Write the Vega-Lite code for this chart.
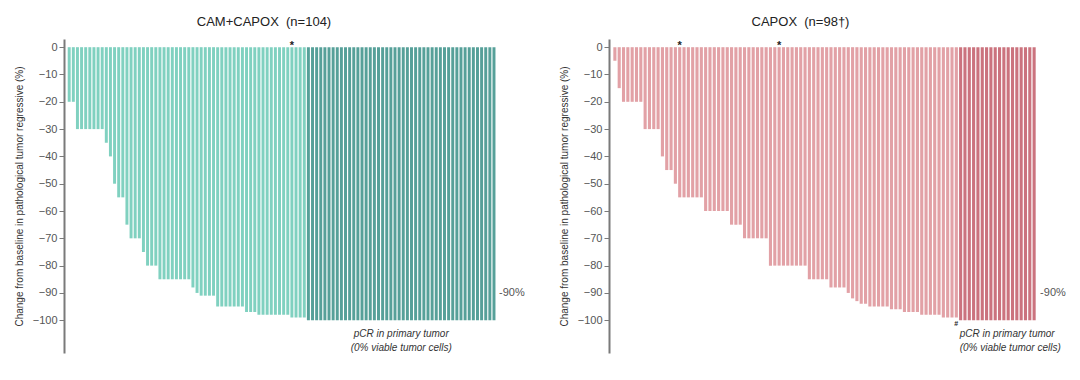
{
"$schema": "https://vega.github.io/schema/vega-lite/v6.json",
"background": "white",
"padding": {"left": 14, "top": 16, "right": 5, "bottom": 5},
"spacing": 34,
"config": {"view": {"stroke": null}, "font": "Liberation Sans", "title": {"fontSize": 13, "fontWeight": "normal", "color": "#222", "offset": 10}},
"resolve": {"scale": {"color": "shared"}},
"datasets": {
"cam": [
{"i":0,"v":-20,"g":"a"},{"i":1,"v":-20,"g":"a"},
{"i":2,"v":-30,"g":"a"},{"i":3,"v":-30,"g":"a"},{"i":4,"v":-30,"g":"a"},{"i":5,"v":-30,"g":"a"},{"i":6,"v":-30,"g":"a"},{"i":7,"v":-30,"g":"a"},{"i":8,"v":-30,"g":"a"},
{"i":9,"v":-35,"g":"a"},{"i":10,"v":-40,"g":"a"},{"i":11,"v":-50,"g":"a"},{"i":12,"v":-55,"g":"a"},{"i":13,"v":-55,"g":"a"},{"i":14,"v":-65,"g":"a"},
{"i":15,"v":-70,"g":"a"},{"i":16,"v":-70,"g":"a"},{"i":17,"v":-70,"g":"a"},{"i":18,"v":-75,"g":"a"},
{"i":19,"v":-80,"g":"a"},{"i":20,"v":-80,"g":"a"},{"i":21,"v":-80,"g":"a"},
{"i":22,"v":-85,"g":"a"},{"i":23,"v":-85,"g":"a"},{"i":24,"v":-85,"g":"a"},{"i":25,"v":-85,"g":"a"},{"i":26,"v":-85,"g":"a"},{"i":27,"v":-85,"g":"a"},{"i":28,"v":-85,"g":"a"},{"i":29,"v":-85,"g":"a"},
{"i":30,"v":-88,"g":"a"},{"i":31,"v":-90,"g":"a"},
{"i":32,"v":-91,"g":"a"},{"i":33,"v":-91,"g":"a"},{"i":34,"v":-91,"g":"a"},{"i":35,"v":-91,"g":"a"},
{"i":36,"v":-95,"g":"a"},{"i":37,"v":-95,"g":"a"},{"i":38,"v":-95,"g":"a"},{"i":39,"v":-95,"g":"a"},{"i":40,"v":-95,"g":"a"},{"i":41,"v":-95,"g":"a"},{"i":42,"v":-95,"g":"a"},
{"i":43,"v":-97,"g":"a"},{"i":44,"v":-97,"g":"a"},{"i":45,"v":-97,"g":"a"},
{"i":46,"v":-98,"g":"a"},{"i":47,"v":-98,"g":"a"},{"i":48,"v":-98,"g":"a"},{"i":49,"v":-98,"g":"a"},{"i":50,"v":-98,"g":"a"},{"i":51,"v":-98,"g":"a"},{"i":52,"v":-98,"g":"a"},{"i":53,"v":-98,"g":"a"},
{"i":54,"v":-99,"g":"a"},{"i":55,"v":-99,"g":"a"},{"i":56,"v":-99,"g":"a"},{"i":57,"v":-99,"g":"a"},
{"i":58,"v":-100,"g":"b"},{"i":59,"v":-100,"g":"b"},{"i":60,"v":-100,"g":"b"},{"i":61,"v":-100,"g":"b"},{"i":62,"v":-100,"g":"b"},{"i":63,"v":-100,"g":"b"},{"i":64,"v":-100,"g":"b"},{"i":65,"v":-100,"g":"b"},{"i":66,"v":-100,"g":"b"},{"i":67,"v":-100,"g":"b"},
{"i":68,"v":-100,"g":"b"},{"i":69,"v":-100,"g":"b"},{"i":70,"v":-100,"g":"b"},{"i":71,"v":-100,"g":"b"},{"i":72,"v":-100,"g":"b"},{"i":73,"v":-100,"g":"b"},{"i":74,"v":-100,"g":"b"},{"i":75,"v":-100,"g":"b"},{"i":76,"v":-100,"g":"b"},{"i":77,"v":-100,"g":"b"},
{"i":78,"v":-100,"g":"b"},{"i":79,"v":-100,"g":"b"},{"i":80,"v":-100,"g":"b"},{"i":81,"v":-100,"g":"b"},{"i":82,"v":-100,"g":"b"},{"i":83,"v":-100,"g":"b"},{"i":84,"v":-100,"g":"b"},{"i":85,"v":-100,"g":"b"},{"i":86,"v":-100,"g":"b"},{"i":87,"v":-100,"g":"b"},
{"i":88,"v":-100,"g":"b"},{"i":89,"v":-100,"g":"b"},{"i":90,"v":-100,"g":"b"},{"i":91,"v":-100,"g":"b"},{"i":92,"v":-100,"g":"b"},{"i":93,"v":-100,"g":"b"},{"i":94,"v":-100,"g":"b"},{"i":95,"v":-100,"g":"b"},{"i":96,"v":-100,"g":"b"},{"i":97,"v":-100,"g":"b"},
{"i":98,"v":-100,"g":"b"},{"i":99,"v":-100,"g":"b"},{"i":100,"v":-100,"g":"b"},{"i":101,"v":-100,"g":"b"},{"i":102,"v":-100,"g":"b"},{"i":103,"v":-100,"g":"b"}
],
"capox": [
{"i":0,"v":-5,"g":"c"},{"i":1,"v":-15,"g":"c"},
{"i":2,"v":-20,"g":"c"},{"i":3,"v":-20,"g":"c"},{"i":4,"v":-20,"g":"c"},{"i":5,"v":-20,"g":"c"},{"i":6,"v":-20,"g":"c"},
{"i":7,"v":-30,"g":"c"},{"i":8,"v":-30,"g":"c"},{"i":9,"v":-30,"g":"c"},{"i":10,"v":-30,"g":"c"},
{"i":11,"v":-40,"g":"c"},{"i":12,"v":-45,"g":"c"},{"i":13,"v":-45,"g":"c"},{"i":14,"v":-50,"g":"c"},
{"i":15,"v":-55,"g":"c"},{"i":16,"v":-55,"g":"c"},{"i":17,"v":-55,"g":"c"},{"i":18,"v":-55,"g":"c"},{"i":19,"v":-55,"g":"c"},{"i":20,"v":-55,"g":"c"},
{"i":21,"v":-60,"g":"c"},{"i":22,"v":-60,"g":"c"},{"i":23,"v":-60,"g":"c"},{"i":24,"v":-60,"g":"c"},{"i":25,"v":-60,"g":"c"},{"i":26,"v":-60,"g":"c"},
{"i":27,"v":-65,"g":"c"},{"i":28,"v":-65,"g":"c"},{"i":29,"v":-65,"g":"c"},
{"i":30,"v":-70,"g":"c"},{"i":31,"v":-70,"g":"c"},{"i":32,"v":-70,"g":"c"},{"i":33,"v":-70,"g":"c"},{"i":34,"v":-70,"g":"c"},{"i":35,"v":-70,"g":"c"},
{"i":36,"v":-80,"g":"c"},{"i":37,"v":-80,"g":"c"},{"i":38,"v":-80,"g":"c"},{"i":39,"v":-80,"g":"c"},{"i":40,"v":-80,"g":"c"},{"i":41,"v":-80,"g":"c"},{"i":42,"v":-80,"g":"c"},{"i":43,"v":-80,"g":"c"},{"i":44,"v":-80,"g":"c"},
{"i":45,"v":-85,"g":"c"},{"i":46,"v":-85,"g":"c"},{"i":47,"v":-85,"g":"c"},{"i":48,"v":-85,"g":"c"},{"i":49,"v":-85,"g":"c"},
{"i":50,"v":-88,"g":"c"},{"i":51,"v":-88,"g":"c"},{"i":52,"v":-88,"g":"c"},{"i":53,"v":-88,"g":"c"},
{"i":54,"v":-90,"g":"c"},{"i":55,"v":-92,"g":"c"},{"i":56,"v":-93,"g":"c"},{"i":57,"v":-94,"g":"c"},{"i":58,"v":-94,"g":"c"},
{"i":59,"v":-95,"g":"c"},{"i":60,"v":-95,"g":"c"},{"i":61,"v":-95,"g":"c"},{"i":62,"v":-95,"g":"c"},{"i":63,"v":-95,"g":"c"},
{"i":64,"v":-96,"g":"c"},{"i":65,"v":-96,"g":"c"},{"i":66,"v":-96,"g":"c"},
{"i":67,"v":-97,"g":"c"},{"i":68,"v":-97,"g":"c"},{"i":69,"v":-97,"g":"c"},{"i":70,"v":-97,"g":"c"},
{"i":71,"v":-98,"g":"c"},{"i":72,"v":-98,"g":"c"},{"i":73,"v":-98,"g":"c"},{"i":74,"v":-98,"g":"c"},{"i":75,"v":-98,"g":"c"},
{"i":76,"v":-99,"g":"c"},{"i":77,"v":-99,"g":"c"},{"i":78,"v":-99,"g":"c"},{"i":79,"v":-99,"g":"c"},
{"i":80,"v":-100,"g":"d"},{"i":81,"v":-100,"g":"d"},{"i":82,"v":-100,"g":"d"},{"i":83,"v":-100,"g":"d"},{"i":84,"v":-100,"g":"d"},{"i":85,"v":-100,"g":"d"},{"i":86,"v":-100,"g":"d"},{"i":87,"v":-100,"g":"d"},{"i":88,"v":-100,"g":"d"},
{"i":89,"v":-100,"g":"d"},{"i":90,"v":-100,"g":"d"},{"i":91,"v":-100,"g":"d"},{"i":92,"v":-100,"g":"d"},{"i":93,"v":-100,"g":"d"},{"i":94,"v":-100,"g":"d"},{"i":95,"v":-100,"g":"d"},{"i":96,"v":-100,"g":"d"},{"i":97,"v":-100,"g":"d"}
],
"camNotes": [
{"i":54,"v":0,"t":"*","k":"star"},
{"i":103,"v":-90,"t":"-90%","k":"pct"},
{"i":81,"v":-105,"t":"pCR in primary tumor","k":"pcr"},
{"i":81,"v":-110.3,"t":"(0% viable tumor cells)","k":"pcr"}
],
"capNotes": [
{"i":15,"v":0,"t":"*","k":"star"},
{"i":38,"v":0,"t":"*","k":"star"},
{"i":97,"v":-90,"t":"-90%","k":"pct"},
{"i":79,"v":-100,"t":"#","k":"hash"},
{"i":80,"v":-105,"t":"pCR in primary tumor","k":"pcr"},
{"i":80,"v":-110.3,"t":"(0% viable tumor cells)","k":"pcr"}
]
},
"hconcat": [
{
"width": 436, "height": 314,
"title": {"text": "CAM+CAPOX\u00a0\u00a0(n=104)", "dx": -18},
"encoding": {
 "x": {"field": "i", "type": "ordinal", "axis": null, "scale": {"domain": [0,1,2,3,4,5,6,7,8,9,10,11,12,13,14,15,16,17,18,19,20,21,22,23,24,25,26,27,28,29,30,31,32,33,34,35,36,37,38,39,40,41,42,43,44,45,46,47,48,49,50,51,52,53,54,55,56,57,58,59,60,61,62,63,64,65,66,67,68,69,70,71,72,73,74,75,76,77,78,79,80,81,82,83,84,85,86,87,88,89,90,91,92,93,94,95,96,97,98,99,100,101,102,103], "paddingInner": 0.28, "paddingOuter": 2.1, "align": 0.45}},
 "y": {"field": "v", "type": "quantitative", "scale": {"domain": [-112, 3], "nice": false, "zero": false},
   "axis": {"values": [0,-10,-20,-30,-40,-50,-60,-70,-80,-90,-100], "title": "Change from baseline in pathological tumor regressive (%)", "titleFontSize": 10, "titleLimit": 500, "titleFontWeight": "normal", "titleColor": "#333", "titlePadding": 8, "labelFontSize": 11, "labelColor": "#555", "labelPadding": 2, "domainColor": "#7a7a7a", "domainWidth": 2, "tickColor": "#7a7a7a", "tickSize": 5, "tickWidth": 1, "grid": false}}
},
"layer": [
 {"data": {"name": "cam"}, "mark": {"type": "bar"}, "encoding": {"y2": {"datum": 0}, "color": {"field": "g", "type": "nominal", "legend": null, "scale": {"domain": ["a","b","c","d"], "range": ["#80d1c0", "#56a099", "#e2a1a6", "#cb737e"]}}}},
 {"mark": {"type": "rule", "color": "#8a8a8a", "strokeWidth": 1.5}, "encoding": {"y": {"datum": 0}, "x": null}},
 {"mark": {"type": "rule", "color": "#777", "strokeWidth": 1, "strokeDash": [5, 5]}, "encoding": {"y": {"datum": -90}, "x": null}},
 {"data": {"name": "camNotes"}, "transform": [{"filter": "datum.k == 'star'"}], "mark": {"type": "text", "fontSize": 11, "fontWeight": "bold", "color": "#222", "baseline": "middle", "dy": -1}, "encoding": {"text": {"field": "t"}}},
 {"data": {"name": "camNotes"}, "transform": [{"filter": "datum.k == 'pct'"}], "mark": {"type": "text", "fontSize": 11, "color": "#555", "align": "left", "baseline": "middle", "dx": 5}, "encoding": {"text": {"field": "t"}}},
 {"data": {"name": "camNotes"}, "transform": [{"filter": "datum.k == 'pcr'"}], "mark": {"type": "text", "fontSize": 10, "fontStyle": "italic", "color": "#333", "align": "center", "baseline": "middle", "dx": -2}, "encoding": {"text": {"field": "t"}}}
]
},
{
"width": 431, "height": 314,
"title": {"text": "CAPOX\u00a0\u00a0(n=98\u2020)", "dx": -24},
"encoding": {
 "x": {"field": "i", "type": "ordinal", "axis": null, "scale": {"domain": [0,1,2,3,4,5,6,7,8,9,10,11,12,13,14,15,16,17,18,19,20,21,22,23,24,25,26,27,28,29,30,31,32,33,34,35,36,37,38,39,40,41,42,43,44,45,46,47,48,49,50,51,52,53,54,55,56,57,58,59,60,61,62,63,64,65,66,67,68,69,70,71,72,73,74,75,76,77,78,79,80,81,82,83,84,85,86,87,88,89,90,91,92,93,94,95,96,97], "paddingInner": 0.28, "paddingOuter": 1.16, "align": 0.5}},
 "y": {"field": "v", "type": "quantitative", "scale": {"domain": [-112, 3], "nice": false, "zero": false},
   "axis": {"values": [0,-10,-20,-30,-40,-50,-60,-70,-80,-90,-100], "title": "Change from baseline in pathological tumor regressive (%)", "titleFontSize": 10, "titleLimit": 500, "titleFontWeight": "normal", "titleColor": "#333", "titlePadding": 8, "labelFontSize": 11, "labelColor": "#555", "labelPadding": 2, "domainColor": "#7a7a7a", "domainWidth": 2, "tickColor": "#7a7a7a", "tickSize": 5, "tickWidth": 1, "grid": false}}
},
"layer": [
 {"data": {"name": "capox"}, "mark": {"type": "bar"}, "encoding": {"y2": {"datum": 0}, "color": {"field": "g", "type": "nominal", "legend": null, "scale": {"domain": ["a","b","c","d"], "range": ["#80d1c0", "#56a099", "#e2a1a6", "#cb737e"]}}}},
 {"mark": {"type": "rule", "color": "#8a8a8a", "strokeWidth": 1.5}, "encoding": {"y": {"datum": 0}, "x": null}},
 {"mark": {"type": "rule", "color": "#777", "strokeWidth": 1, "strokeDash": [5, 5]}, "encoding": {"y": {"datum": -90}, "x": null}},
 {"data": {"name": "capNotes"}, "transform": [{"filter": "datum.k == 'star'"}], "mark": {"type": "text", "fontSize": 11, "fontWeight": "bold", "color": "#222", "baseline": "middle", "dy": -1}, "encoding": {"text": {"field": "t"}}},
 {"data": {"name": "capNotes"}, "transform": [{"filter": "datum.k == 'hash'"}], "mark": {"type": "text", "fontSize": 7, "fontWeight": "bold", "color": "#222", "baseline": "middle", "dy": 4}, "encoding": {"text": {"field": "t"}}},
 {"data": {"name": "capNotes"}, "transform": [{"filter": "datum.k == 'pct'"}], "mark": {"type": "text", "fontSize": 11, "color": "#555", "align": "left", "baseline": "middle", "dx": 6}, "encoding": {"text": {"field": "t"}}},
 {"data": {"name": "capNotes"}, "transform": [{"filter": "datum.k == 'pcr'"}], "mark": {"type": "text", "fontSize": 10, "fontStyle": "italic", "color": "#333", "align": "left", "baseline": "middle", "dx": -1}, "encoding": {"text": {"field": "t"}}}
]
}
]
}
